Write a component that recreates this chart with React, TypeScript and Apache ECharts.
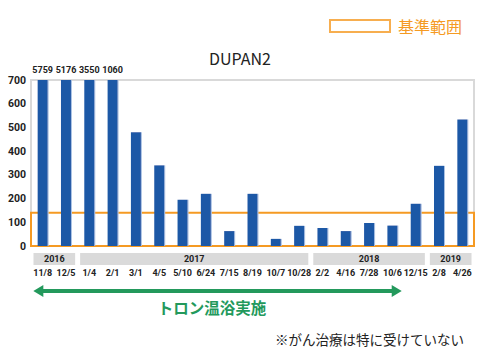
import React, { useEffect, useRef } from "react";
import * as echarts from "echarts";

const categories = ["11/8", "12/5", "1/4", "2/1", "3/1", "4/5", "5/10", "6/24", "7/15", "8/19", "10/7", "10/28", "2/2", "4/16", "7/28", "10/6", "12/15", "2/8", "4/26"];
const values = [5759, 5176, 3550, 1060, 480, 340, 195, 220, 63, 220, 30, 85, 76, 63, 97, 86, 178, 338, 533];
const years = ["2016", "2017", "2018", "2019"];
const yearCounts = [2, 10, 5, 2];
const referenceRange = [0, 140];
const yTicks = [0, 100, 200, 300, 400, 500, 600, 700];
const treatmentSpan = [0.1, 15.9];

const FONT = "'Noto Sans CJK JP', 'Noto Sans', sans-serif";
const NUMFONT = "Roboto, 'Noto Sans', sans-serif";
const BLUE = "#1f58a6";
const ORANGE = "#f59a23";
const GREEN = "#23995c";

export default function App() {
  const ref = useRef<HTMLDivElement>(null);
  useEffect(() => {
    if (!ref.current) return;
    const chart = echarts.init(ref.current, null, { renderer: "svg" });
    const yMax = yTicks[yTicks.length - 1];
    const barData = values.map((v) => ({
      value: Math.min(v, yMax),
      label: {
        show: v > yMax,
        formatter: String(v),
      },
    }));
    const yearData: number[][] = [];
    let s = 0;
    yearCounts.forEach((c, i) => {
      yearData.push([s, s + c, i]);
      s += c;
    });
    chart.setOption({
      animation: false,
      textStyle: { fontFamily: FONT },
      title: {
        text: "DUPAN2",
        left: "center",
        top: 45,
        textStyle: { fontFamily: FONT, fontSize: 16, fontWeight: "normal", color: "#222" },
      },
      legend: {
        right: 13,
        top: 13,
        itemWidth: 60,
        itemHeight: 12,
        itemGap: 5,
        data: [
          {
            name: "基準範囲",
            icon: "rect",
            itemStyle: { color: "#fff", borderColor: ORANGE, borderWidth: 2 },
          },
        ],
        textStyle: { color: ORANGE, fontSize: 16, fontFamily: FONT, padding: [0, 0, 0, 3] },
        selectedMode: false,
      },
      grid: [
        { left: 31, right: 6, top: 80, height: 166, show: true, borderColor: "#d9d9d9", borderWidth: 2, backgroundColor: "transparent" },
        { left: 31, right: 6, top: 253, height: 12 },
        { left: 31, right: 6, top: 285, height: 12 },
      ],
      xAxis: [
        {
          type: "category",
          gridIndex: 0,
          data: categories,
          axisLine: { show: false },
          axisTick: { show: false },
          axisLabel: { margin: 22, fontSize: 9, fontWeight: "bold", color: "#222", fontFamily: NUMFONT, interval: 0 },
        },
        { type: "value", gridIndex: 1, min: 0, max: categories.length, show: false },
        { type: "value", gridIndex: 2, min: 0, max: categories.length, show: false },
      ],
      yAxis: [
        {
          type: "value",
          gridIndex: 0,
          min: 0,
          max: yMax,
          interval: 100,
          splitLine: { show: false },
          axisLine: { show: false },
          axisTick: { show: false },
          axisLabel: { margin: 5, fontSize: 10.5, fontWeight: "bold", color: "#222", fontFamily: NUMFONT },
        },
        { type: "value", gridIndex: 1, min: 0, max: 1, show: false },
        { type: "value", gridIndex: 2, min: 0, max: 1, show: false },
      ],
      series: [
        {
          type: "bar",
          name: "DUPAN2",
          xAxisIndex: 0,
          yAxisIndex: 0,
          data: barData,
          barWidth: 10,
          itemStyle: { color: BLUE, shadowColor: "#a9c1e3", shadowOffsetX: 1, shadowBlur: 0 },
          label: {
            position: "top",
            distance: 6,
            fontSize: 9,
            fontWeight: "bold",
            color: "#222",
            fontFamily: NUMFONT,
          },
          z: 2,
        },
        {
          type: "scatter",
          name: "基準範囲",
          xAxisIndex: 0,
          yAxisIndex: 0,
          data: [],
          itemStyle: { color: "#fff", borderColor: ORANGE, borderWidth: 2 },
          z: 5,
          markArea: {
            silent: true,
            itemStyle: { color: "rgba(0,0,0,0)", borderColor: ORANGE, borderWidth: 2 },
            data: [[{ yAxis: referenceRange[0] }, { yAxis: referenceRange[1] }]],
          },
        },
        {
          type: "custom",
          name: "years",
          xAxisIndex: 1,
          yAxisIndex: 1,
          data: yearData,
          encode: { x: [0, 1] },
          renderItem: (params: any, api: any) => {
            const st = api.value(0);
            const en = api.value(1);
            const idx = api.value(2);
            const p0 = api.coord([st, 0]);
            const p1 = api.coord([en, 1]);
            const gap = 2.5;
            const x = p0[0] + gap;
            const w = p1[0] - p0[0] - gap * 2;
            const y = p1[1];
            const h = p0[1] - p1[1];
            return {
              type: "group",
              children: [
                { type: "rect", shape: { x, y, width: w, height: h }, style: { fill: "#dadada" } },
                {
                  type: "text",
                  style: {
                    text: years[idx],
                    x: x + w / 2,
                    y: y + h / 2,
                    align: "center",
                    verticalAlign: "middle",
                    fontSize: 9,
                    fontWeight: "bold",
                    fill: "#222",
                    fontFamily: NUMFONT,
                  },
                },
              ],
            };
          },
        },
        {
          type: "custom",
          name: "arrow",
          xAxisIndex: 2,
          yAxisIndex: 2,
          data: [treatmentSpan],
          encode: { x: [0, 1] },
          renderItem: (params: any, api: any) => {
            const a = api.coord([api.value(0), 0.5]);
            const b = api.coord([api.value(1), 0.5]);
            const yc = a[1];
            const x0 = a[0];
            const x1 = b[0];
            const hl = 10;
            const hw = 6;
            const t = 2;
            return {
              type: "polygon",
              shape: {
                points: [
                  [x0, yc],
                  [x0 + hl, yc - hw],
                  [x0 + hl, yc - t],
                  [x1 - hl, yc - t],
                  [x1 - hl, yc - hw],
                  [x1, yc],
                  [x1 - hl, yc + hw],
                  [x1 - hl, yc + t],
                  [x0 + hl, yc + t],
                  [x0 + hl, yc + hw],
                ],
              },
              style: { fill: GREEN },
            };
          },
        },
      ],
      graphic: [
        {
          type: "text",
          x: 212,
          y: 307,
          style: {
            text: "トロン温浴実施",
            align: "center",
            verticalAlign: "middle",
            fontSize: 15.5,
            fontWeight: "bold",
            fill: GREEN,
            fontFamily: FONT,
          },
        },
        {
          type: "text",
          x: 275,
          y: 339,
          style: {
            text: "※がん治療は特に受けていない",
            align: "left",
            verticalAlign: "middle",
            fontSize: 13.5,
            fill: "#222",
            fontFamily: FONT,
          },
        },
      ],
    });
    return () => chart.dispose();
  }, []);
  return <div ref={ref} style={{ width: 480, height: 360, position: "absolute", left: 0, top: 0, background: "#fff" }} />;
}
